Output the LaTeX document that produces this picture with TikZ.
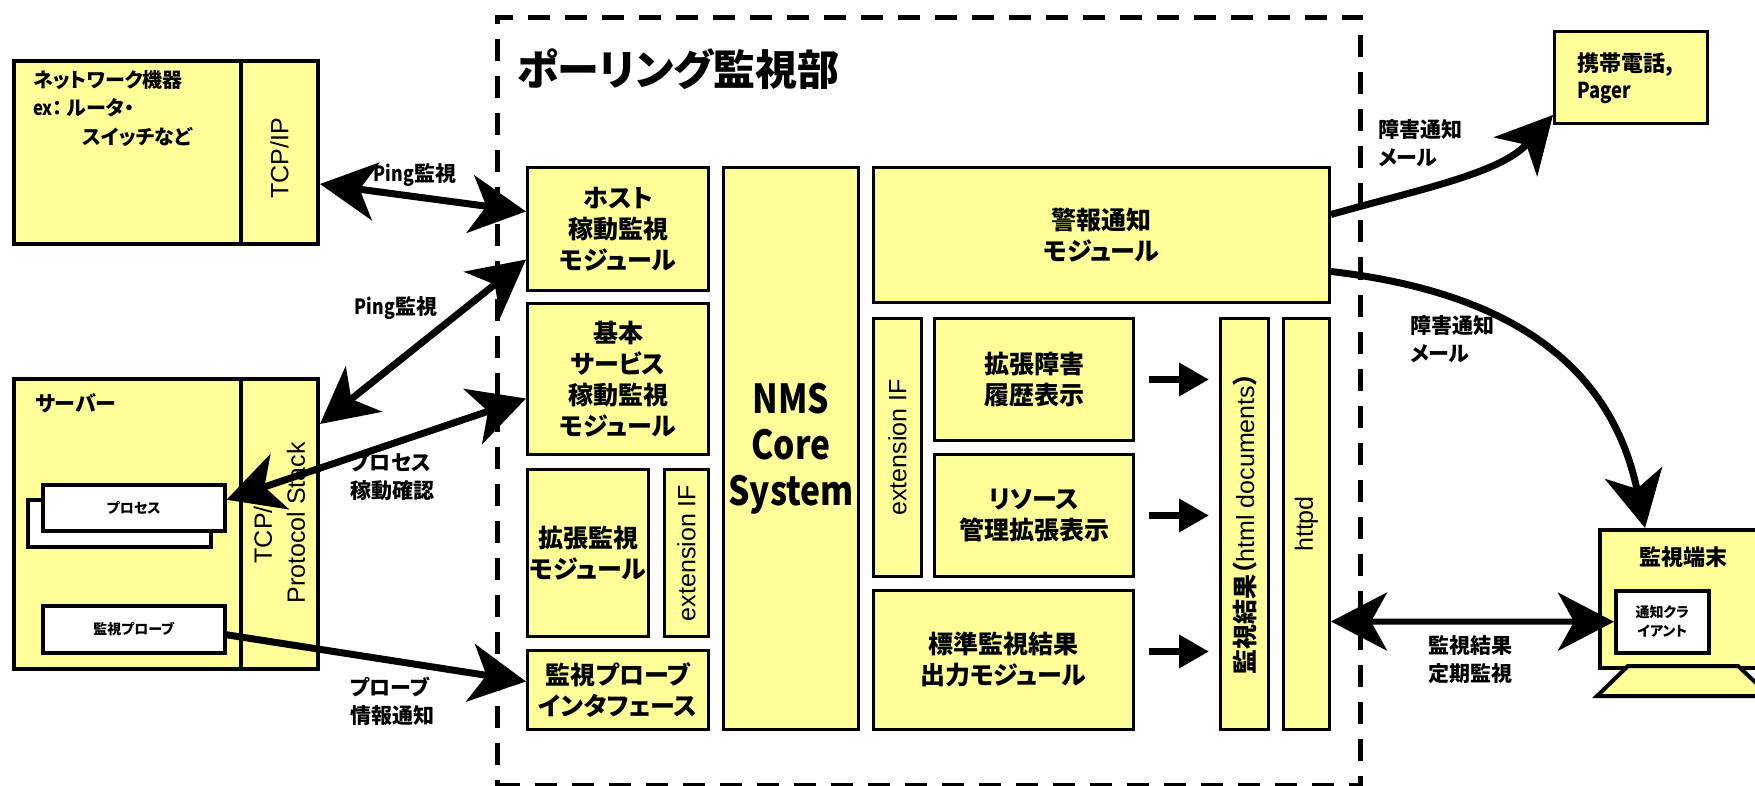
\documentclass[tikz,border=0pt]{standalone}
\usepackage{fontspec}
\setmainfont{Noto Sans CJK JP}[RawFeature=+palt]
\newfontfamily\condf{Noto Sans CJK JP}[FakeStretch=0.84]
\newfontfamily\arialf{Liberation Sans}
\usetikzlibrary{arrows.meta,calc}
\definecolor{boxyellow}{RGB}{255,255,153}
\begin{document}
\begin{tikzpicture}[x=1pt,y=-1pt,
  box/.style={draw=black, line width=3pt, fill=boxyellow, anchor=north west, inner sep=0pt, align=center,
    font=\bfseries\fontsize{25}{31}\selectfont},
  obox/.style={box, line width=4pt},
  wbox/.style={draw=black, line width=3.5pt, fill=white, anchor=north west, inner sep=0pt, align=center,
    font=\bfseries\fontsize{14}{19}\selectfont},
  lbl/.style={font=\bfseries\fontsize{21}{28}\selectfont, align=left, inner sep=0pt},
  rot/.style={rotate=90, inner sep=0pt, align=center, font=\arialf\fontsize{25}{33}\selectfont},
  frame/.style={draw=black, line width=5pt, dash pattern=on 22pt off 15pt, anchor=north west, inner sep=0pt},
  bigtip/.tip={Stealth[length=56pt,width=58pt,inset=16pt]},
  big/.style={line width=7pt, -bigtip},
  bigboth/.style={line width=7pt, bigtip-bigtip},
  small/.style={line width=7pt, -{Triangle[length=30pt,width=32pt]}},
]
\useasboundingbox (0,0) rectangle (1755,786);

% polling frame
\node[frame, minimum width=863pt, minimum height=768pt] (poll) at (495,15) {};
\node[anchor=west, inner sep=0pt, font=\bfseries\fontsize{42}{48}\selectfont] (title) at (517,69) {ポーリング監視部};

% network device
\node[obox, minimum width=227pt, minimum height=183pt] (netL) at (12,59) {};
\node[obox, minimum width=77pt, minimum height=183pt] (netR) at (239,59) {};
\node[rot] (netRt) at ([yshift=-6pt]netR.center) {TCP/IP};
\node[lbl, anchor=north west, font=\bfseries\fontsize{20}{28.5}\selectfont] (netT) at (33,70)
  {ネットワーク機器\\{\condf\bfseries ex}：\hspace{4pt}ルータ・\\\hspace*{49pt}スイッチなど};

% server
\node[obox, minimum width=227pt, minimum height=290pt] (srvL) at (12,377) {};
\node[obox, minimum width=77pt, minimum height=290pt] (srvR) at (239,377) {};
\node[rot] (srvRt) at ([yshift=1pt]srvR.center) {TCP/IP\\Protocol Stack};
\node[lbl, anchor=west] (srvT) at (35,403) {サーバー};
\node[wbox, minimum width=183pt, minimum height=47pt] (procB) at (26,498) {};
\node[wbox, minimum width=182pt, minimum height=46pt] (procF) at (41,483) {プロセス};
\node[wbox, minimum width=182pt, minimum height=47pt] (probe) at (41,604) {監視プローブ};

% polling modules
\node[box, minimum width=181pt, minimum height=123pt] (host) at (526,166) {ホスト\\稼動監視\\モジュール};
\node[box, minimum width=135pt, minimum height=562pt, font=\condf\bfseries\fontsize{40}{46}\selectfont] (core) at (722,166) {NMS\\Core\\System};
\node[box, minimum width=456pt, minimum height=135pt] (alarm) at (872,166) {警報通知\\モジュール};
\node[box, minimum width=181pt, minimum height=151pt] (basic) at (526,302) {基本\\サービス\\稼動監視\\モジュール};
\node[box, minimum width=121pt, minimum height=167pt] (ext) at (526,468) {拡張監視\\モジュール};
\node[box, minimum width=44pt, minimum height=167pt] (extif1) at (663,468) {};
\node[rot] at (extif1.center) {extension IF};
\node[box, minimum width=181pt, minimum height=79pt] (probeif) at (526,649) {監視プローブ\\インタフェース};
\node[box, minimum width=48pt, minimum height=258pt] (extif2) at (872,317) {};
\node[rot] at (extif2.center) {extension IF};
\node[box, minimum width=199pt, minimum height=122pt] (hist) at (933,317) {拡張障害\\履歴表示};
\node[box, minimum width=199pt, minimum height=122pt] (res) at (933,453) {リソース\\管理拡張表示};
\node[box, minimum width=260pt, minimum height=139pt] (std) at (872,589) {標準監視結果\\出力モジュール};
\node[box, minimum width=48pt, minimum height=411pt] (result) at (1219,317) {};
\node[rot, font=\fontsize{25}{30}\selectfont] at (result.center) {{\bfseries 監視結果（}{\arialf html documents}{\bfseries ）}};
\node[box, minimum width=46pt, minimum height=411pt] (httpd) at (1282,317) {};
\node[rot] at (httpd.center) {httpd};

% pager
\node[box, minimum width=153pt, minimum height=92pt] (pager) at (1553,30) {};
\node[lbl, anchor=north west, font=\bfseries\fontsize{22}{27}\selectfont] (pagerT) at (1577,52) {携帯電話,\\{\condf\bfseries Pager}};

% terminal
\node[obox, minimum width=177pt, minimum height=138pt] (term) at (1598,528) {};
\draw[line width=4pt, fill=boxyellow] (1628,666) -- (1738,666) -- (1770,696) -- (1597,696) -- cycle;
\node[lbl, font=\bfseries\fontsize{22}{27}\selectfont] (termT) at (1683,557) {監視端末};
\node[wbox, minimum width=93pt, minimum height=62pt, font=\bfseries\fontsize{14}{19}\selectfont] (client) at (1614,589) {通知クラ\\イアント};

% labels
\node[lbl] (l1) at (415,175) {{\condf\bfseries Ping}監視};
\node[lbl] (l2) at (396,308) {{\condf\bfseries Ping}監視};
\node[lbl, anchor=north west] (l3) at (350,452) {プロセス\\稼動確認};
\node[lbl, anchor=north west] (l4) at (350,677) {プローブ\\情報通知};
\node[lbl, anchor=north west] (l5) at (1378,119) {障害通知\\メール};
\node[lbl, anchor=north west] (l6) at (1410,315) {障害通知\\メール};
\node[lbl, align=center] (l7) at (1470,660) {監視結果\\定期監視};

% connectors
\draw[bigboth] ([yshift=-31.5pt]netR.east) -- ([yshift=17.5pt]host.west);
\draw[bigboth] ([yshift=-30.5pt]host.west) -- ([yshift=100pt]srvR.east);
\draw[bigboth] ([yshift=-19.5pt]basic.west) -- ([yshift=8pt]procF.east);
\draw[big] ([yshift=-5.5pt]probe.east) -- ([yshift=8.5pt]probeif.west);
\draw[small] ([xshift=14pt]hist.east) -- ([xshift=74pt]hist.east);
\draw[small] ([xshift=14pt]res.east) -- ([xshift=74pt]res.east);
\draw[small] ([xshift=14pt,yshift=8.5pt]std.east) -- ([xshift=74pt,yshift=8.5pt]std.east);
\draw[bigboth, line width=6pt] ([yshift=-97.5pt]httpd.east) -- (client.west);
\draw[big] ([yshift=20.5pt]alarm.east) .. controls +(92,-26) and +(-52,58) .. ([yshift=10pt]pager.south west);
\draw[big] ([yshift=-36.5pt]alarm.east) .. controls +(172,20) and +(-35,-168) .. ([xshift=47pt]term.north west);
\end{tikzpicture}
\end{document}
